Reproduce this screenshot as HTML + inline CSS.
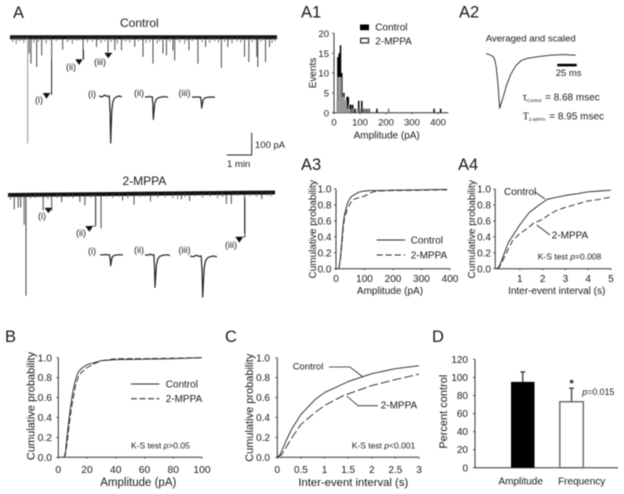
<!DOCTYPE html>
<html lang="en">
<head>
<meta charset="utf-8">
<title>Control vs 2-MPPA miniature currents</title>
<style>
html,body{margin:0;padding:0;background:#fff;}
#figure{display:block;width:624px;height:494px;filter:blur(0.4px);}
text{font-family:"Liberation Sans",Arial,sans-serif;fill:#1a1a1a;}
.pl{font-size:16.5px;}
.t10{font-size:10px;}
.t11{font-size:11px;}
.ks{font-size:8.5px;}
.mk{font-size:9px;}
</style>
</head>
<body>
<svg id="figure" xmlns="http://www.w3.org/2000/svg" width="624" height="494" viewBox="0 0 624 494">
<rect x="0" y="0" width="624" height="494" fill="#fff"/>
<g id="marks"></g>

<text class="pl" x="13" y="18">A</text>
<text class="pl" x="301" y="17.5">A1</text>
<text class="pl" x="459" y="17.5">A2</text>
<text class="pl" x="301" y="170">A3</text>
<text class="pl" x="458" y="170">A4</text>
<text class="pl" x="5" y="342">B</text>
<text class="pl" x="225" y="342">C</text>
<text class="pl" x="432" y="342">D</text>

<text x="120" y="27" font-size="12">Control</text>
<text x="122.5" y="185" font-size="12">2-MPPA</text>

<path d="M251.7 132.7V155H226.7" fill="none" stroke="#222" stroke-width="1"/>
<text x="255" y="148" font-size="9.5">100 pA</text>
<text x="227" y="167" font-size="9.5">1 min</text>

<g>
<path d="M42.7 93H50.3L46.5 98.7Z" fill="#111"/>
<path d="M75.3 59.3H82.7L79 65Z" fill="#111"/>
<path d="M104.3 52.7H112.3L108.3 58.3Z" fill="#111"/>
<path d="M83 59.3H83.6V50" stroke="#222" stroke-width="0.8" fill="none"/>
<path d="M50.3 93H51.6V60" stroke="#222" stroke-width="0.8" fill="none"/>
<text class="mk" x="35" y="103">(i)</text>
<text class="mk" x="66" y="70">(ii)</text>
<text class="mk" x="94" y="65">(iii)</text>
<text class="mk" x="88" y="97">(i)</text>
<text class="mk" x="134" y="96">(ii)</text>
<text class="mk" x="178.5" y="96">(iii)</text>
</g>

<g>
<path d="M44.5 207.7H52.3L48.4 213.3Z" fill="#111"/>
<path d="M85.3 226H93.3L89.3 231.7Z" fill="#111"/>
<path d="M235.3 236.7H243.3L239.3 242.7Z" fill="#111"/>
<path d="M93.3 226H95.7V198" stroke="#222" stroke-width="0.8" fill="none"/>
<path d="M243.3 236.7H245V198" stroke="#222" stroke-width="0.8" fill="none"/>
<text class="mk" x="38" y="219">(i)</text>
<text class="mk" x="76" y="236">(ii)</text>
<text class="mk" x="225" y="248">(iii)</text>
<text class="mk" x="88" y="254">(i)</text>
<text class="mk" x="134" y="253">(ii)</text>
<text class="mk" x="178.5" y="253">(iii)</text>
</g>

<!-- A1 static -->
<text class="t10" transform="translate(316,73) rotate(-90)" text-anchor="middle">Events</text>
<text class="t10" x="386.7" y="138.5" text-anchor="middle">Amplitude (pA)</text>
<rect x="360" y="24.5" width="9" height="5.7" fill="#000"/>
<rect x="360.7" y="38.3" width="7.8" height="4.6" fill="#fff" stroke="#333" stroke-width="1.3"/>
<text class="t10" x="375.3" y="30.5">Control</text>
<text class="t10" x="375.3" y="44.5">2-MPPA</text>

<!-- A2 static -->
<text x="485.7" y="41.7" font-size="9.6">Averaged and scaled</text>
<rect x="557.3" y="63.8" width="19.4" height="2.6" fill="#000"/>
<text x="555.7" y="76" font-size="9.5">25 ms</text>
<text x="522.7" y="100.7" font-size="10">τ<tspan font-size="4.6" dy="1.5">Control</tspan><tspan x="545" dy="-1.5">= 8.68 msec</tspan></text>
<text x="522.7" y="119.3" font-size="10"><tspan style="font-family:'Liberation Serif',serif">T</tspan><tspan font-size="4.6" dy="1.5">2-MPPA</tspan><tspan x="549.3" dy="-1.5">= 8.95 msec</tspan></text>

<!-- A3 static -->
<text class="t10" transform="translate(316,229.3) rotate(-90)" text-anchor="middle">Cumulative probability</text>
<text class="t10" x="390" y="294" text-anchor="middle">Amplitude (pA)</text>
<line x1="376.7" y1="240" x2="405" y2="240" stroke="#222" stroke-width="1"/>
<line x1="376.7" y1="255" x2="405" y2="255" stroke="#222" stroke-width="1" stroke-dasharray="6 3"/>
<text class="t10" x="410.7" y="243.5">Control</text>
<text class="t10" x="410.7" y="258.5">2-MPPA</text>

<!-- A4 static -->
<text class="t10" transform="translate(475,229.3) rotate(-90)" text-anchor="middle">Cumulative probability</text>
<text class="t10" x="556.7" y="294" text-anchor="middle">Inter-event interval (s)</text>
<text class="t10" x="504" y="195">Control</text>
<text class="t10" x="551.7" y="238.5">2-MPPA</text>
<line x1="535" y1="192" x2="545" y2="199" stroke="#222" stroke-width="0.8"/>
<line x1="536.7" y1="225" x2="550" y2="235" stroke="#222" stroke-width="0.8"/>
<text class="ks" x="537.7" y="259.3">K-S test <tspan font-style="italic">p</tspan>=0.008</text>

<!-- B static -->
<text class="t11" transform="translate(34.5,406) rotate(-90)" text-anchor="middle">Cumulative probability</text>
<text x="138.3" y="486" font-size="11.5" text-anchor="middle">Amplitude (pA)</text>
<line x1="131" y1="384" x2="159.3" y2="384" stroke="#222" stroke-width="1"/>
<line x1="131" y1="398.7" x2="159.3" y2="398.7" stroke="#333" stroke-width="1.1" stroke-dasharray="6 2.5"/>
<text class="t10" x="165.7" y="387.5">Control</text>
<text class="t10" x="165.7" y="402">2-MPPA</text>
<text class="ks" x="131" y="448.3">K-S test <tspan font-style="italic">p</tspan>&gt;0.05</text>

<!-- C static -->
<text class="t11" transform="translate(253,407.7) rotate(-90)" text-anchor="middle">Cumulative probability</text>
<text x="353.3" y="486" font-size="11.3" text-anchor="middle">Inter-event interval (s)</text>
<text font-size="9.5" x="292.7" y="369.5">Control</text>
<text class="t10" x="380.7" y="408.5">2-MPPA</text>
<path d="M329 367H350L363 377" fill="none" stroke="#222" stroke-width="0.8"/>
<path d="M378 405.7H358L346.7 396" fill="none" stroke="#222" stroke-width="0.8"/>
<text class="ks" x="351.7" y="448.3">K-S test <tspan font-style="italic">p</tspan>&lt;0.001</text>

<!-- D static -->
<text class="t11" transform="translate(447,411.7) rotate(-90)" text-anchor="middle">Percent control</text>
<text class="t10" x="520.7" y="484.7" text-anchor="middle">Amplitude</text>
<text class="t10" x="581.7" y="484.7" text-anchor="middle">Frequency</text>
<text x="571.7" y="387" font-size="11" font-weight="bold" text-anchor="middle">*</text>
<text x="582.3" y="395" font-size="8.8"><tspan font-style="italic">p</tspan>=0.015</text>
</svg>

<script>
// A: spontaneous event traces (time in min, amplitude in pA)
const controlEventTimes = [0.71,0.77,0.84,1.07,1.27,1.67,2.11,2.93,3.47,3.93,4.2,4.47,5.0,5.33,5.73,6.13,6.27,6.53,6.6,7.17,7.53,7.84,8.47,8.73,9.4,9.57,9.89,9.93,10.24,10.4];
const controlEventAmps = [483,74,120,135,82,262,56,97,44,67,59,59,44,89,120,74,82,59,105,59,120,44,139,44,89,112,89,135,112,44];
const controlSmallTimes = [0.1,0.18,0.25,0.33,0.4,0.47,0.55,0.63,0.95,1.15,1.35,1.45,1.58,1.85,1.98,2.3,2.4,2.5,2.6,2.7,2.82,3.1,3.2,3.3,3.55,3.65,3.8,4.05,4.15,4.3,4.55,4.65,4.8,4.9,5.15,5.25,5.45,5.6,5.9,6.0,6.4,6.7,6.8,7.0,7.1,7.3,7.4,7.7,8.0,8.1,8.2,8.35,8.6,8.8,8.9,9.1,9.25,9.5,9.7,9.8,10.05,10.15,10.5,10.62];
const controlSmallAmps = [22,12,30,14,18,12,26,13,24,20,12,28,14,18,12,22,14,30,12,16,13,24,12,20,14,26,18,22,12,30,14,20,24,12,18,13,26,22,28,18,20,13,24,30,14,18,12,22,26,13,18,24,20,12,28,18,24,12,22,14,20,13,26,18];
const mppaEventTimes = [0.25,0.41,0.51,0.65,0.72,1.41,1.75,2.15,2.88,3.08,3.51,3.73,4.59,5.05,5.71,6.95,7.28,8.75,8.95,9.48,10.17];
const mppaEventAmps = [65,58,58,136,459,73,73,35,35,50,141,156,30,50,35,27,35,50,50,186,30];
const mppaSmallTimes = [0.1,0.9,1.1,1.25,1.6,1.95,2.05,2.4,2.6,3.3,3.45,3.95,4.2,4.45,4.8,5.3,5.5,5.85,6.0,6.3,6.6,6.8,7.1,7.5,7.8,8.1,8.4,8.6,9.2,9.7,9.95,10.4,10.55];
const mppaSmallAmps = [22,18,16,12,20,15,12,14,18,16,12,14,18,13,20,16,14,12,18,16,22,26,18,14,20,16,24,18,14,16,18,14,16];

// Averaged event template: position relative to peak, normalised current
const shapeT = [-1,-0.75,-0.5,-0.3,-0.12,-0.05,0,0.04,0.1,0.2,0.32,0.5,0.75,1];
const shapeI = [0,0.02,-0.02,0.01,0,0.35,1,0.7,0.3,0.12,0.05,0.02,0,0.02];

// A1 histogram
const histControlAmps = [15,20,25,30,38,45,50,55,60,65,72,80,95,107,115,125,135,165,210,385,410];
const histControlCounts = [14,15,17,10,5,3,4,4,2,2,2,1,3,3,1,1,1,1,1,1,1];
const histMppaAmps = [12,17,22,27,32,37,42,47,52,57,62,70,88,92,102,112,122,132,210];
const histMppaCounts = [3,9,9,9,4,4,3,3,1,2,1,1,1,1,1,1,1,1,1];
const a1XTicks = [0,100,200,300,400];
const a1YTicks = [0,5,10,15,20];

// A2 averaged trace (ms from start, normalised current)
const a2Times = [0,4,8,10,12,14,16,18,20,24,29,35,41,48,60,75,90,105];
const a2Current = [0,0.02,0.05,0.1,0.25,0.55,1,0.9,0.8,0.58,0.38,0.22,0.13,0.09,0.06,0.03,0.02,0.03];

// Cumulative probability panels
const probTicks = [0,0.2,0.4,0.6,0.8,1];
const a3XTicks = [0,100,200,300,400];
const a3ControlX = [10,15,20,25,30,40,50,60,80,100,120,150,200,300,390];
const a3ControlY = [0,0.12,0.33,0.55,0.68,0.82,0.89,0.92,0.96,0.975,0.98,0.98,0.985,0.99,0.995];
const a3MppaX = [10,15,20,25,30,40,50,60,80,100,110,130,150,200,300,390];
const a3MppaY = [0,0.1,0.28,0.5,0.64,0.75,0.82,0.87,0.89,0.91,0.93,0.965,0.975,0.98,0.985,0.99];

const a4XTicks = [1,2,3,4,5];
const a4ControlX = [0,0.1,0.25,0.5,0.75,1,1.4,1.8,2.2,2.5,3,3.5,4,4.5,5];
const a4ControlY = [0,0.03,0.14,0.33,0.44,0.55,0.7,0.79,0.87,0.89,0.92,0.94,0.965,0.975,0.985];
const a4MppaX = [0,0.1,0.25,0.5,0.7,1,1.3,1.6,2,2.3,2.6,3,3.5,4,4.5,5];
const a4MppaY = [0,0.02,0.1,0.25,0.36,0.44,0.5,0.57,0.62,0.68,0.73,0.77,0.81,0.85,0.87,0.9];

const bXTicks = [0,20,40,60,80,100];
const bControlX = [4,5,6,8,10,12,14,16,20,25,30,40,60,80,100];
const bControlY = [0,0.05,0.2,0.45,0.65,0.78,0.86,0.89,0.93,0.95,0.97,0.98,0.985,0.99,1];
const bMppaX = [4,5,6,8,10,12,14,16,20,25,30,40,60,80,100];
const bMppaY = [0,0.03,0.13,0.38,0.57,0.72,0.81,0.85,0.9,0.94,0.97,0.99,0.99,0.995,1];

const cXTicks = [0,0.5,1,1.5,2,2.5,3];
const cControlX = [0,0.05,0.1,0.2,0.3,0.5,0.8,1,1.5,2,2.5,3];
const cControlY = [0,0.02,0.07,0.18,0.28,0.43,0.58,0.65,0.76,0.84,0.89,0.92];
const cMppaX = [0,0.1,0.2,0.3,0.5,0.8,1,1.4,2,2.5,3];
const cMppaY = [0,0.03,0.11,0.19,0.33,0.45,0.52,0.62,0.72,0.78,0.835];

// D bars
const dValues = [95,73];
const dErrors = [11,15];
const dYTicks = [0,20,40,60,80,100,120];

const NS = 'http://www.w3.org/2000/svg';
const marks = document.getElementById('marks');
function mk(tag, attrs) {
  const el = document.createElementNS(NS, tag);
  for (const k in attrs) el.setAttribute(k, attrs[k]);
  marks.appendChild(el);
  return el;
}
function linear(d0, d1, r0, r1) {
  return function (v) { return r0 + (v - d0) * (r1 - r0) / (d1 - d0); };
}
function fmt(v, digits) { return digits ? v.toFixed(digits) : String(v); }

function drawAxes(prefix, xs, ys, xTicks, yTicks, o) {
  const xLine = mk('line', {x1: xs(o.xMin), x2: xs(o.xMax), y1: ys(o.yMin), y2: ys(o.yMin), stroke: '#333', 'stroke-width': 1});
  
  
  const yLine = mk('line', {x1: xs(o.xMin), x2: xs(o.xMin), y1: ys(o.yMin), y2: ys(o.yMax), stroke: '#333', 'stroke-width': 1});
  
  
  xTicks.forEach(function (t) {
    const tick = mk('line', {x1: xs(t), x2: xs(t), y1: ys(o.yMin), y2: ys(o.yMin) + 1.5, stroke: '#333', 'stroke-width': 0.8});
    
    
    const label = mk('text', {x: xs(t), y: o.xLabelY, 'text-anchor': 'middle', 'font-size': o.tickSize});
    
    
    label.textContent = fmt(t, 0);
  });
  yTicks.forEach(function (t) {
    const tick = mk('line', {x1: xs(o.xMin) - 2, x2: xs(o.xMin), y1: ys(t), y2: ys(t), stroke: '#333', 'stroke-width': 0.8});
    
    
    const label = mk('text', {x: o.yLabelX, y: ys(t) + 3.6, 'text-anchor': 'end', 'font-size': o.tickSize});
    
    
    label.textContent = fmt(t, o.yDigits || 0);
  });
}
function drawCurve(name, xVals, yVals, xs, ys, dash) {
  const pts = xVals.map(function (v, i) { return xs(v).toFixed(2) + ',' + ys(yVals[i]).toFixed(2); }).join(' ');
  const p = mk('polyline', {points: pts, fill: 'none', stroke: '#222', 'stroke-width': 0.9, 'stroke-dasharray': dash || 'none', 'stroke-linejoin': 'round'});
  
  
}

// Panel A traces
function drawTrace(prefix, t0, y0, y1, len, times, amps, smallTimes, smallAmps) {
  const xs = linear(0, 10.7, t0, t0 + 267);
  const base = linear(0, 10.7, y0, y1);
  const ampScale = 0.22;
  const bl = mk('line', {x1: xs(0), x2: xs(10.7), y1: y0, y2: y1, stroke: '#111', 'stroke-width': 4});
  
  
  smallTimes.forEach(function (t, i) {
    const s = mk('line', {x1: xs(t), x2: xs(t), y1: base(t), y2: base(t) + smallAmps[i] * ampScale, stroke: '#555', 'stroke-width': 0.8});
    
    
  });
  times.forEach(function (t, i) {
    const s = mk('line', {x1: xs(t), x2: xs(t), y1: base(t), y2: base(t) + amps[i] * ampScale, stroke: amps[i] > 400 && prefix === 'control-trace' ? '#888' : '#333', 'stroke-width': 0.9});
    
    
  });
}
drawTrace('control-trace', 10, 37.3, 37.3, 267, controlEventTimes, controlEventAmps, controlSmallTimes, controlSmallAmps);
drawTrace('mppa-trace', 8, 195, 192.5, 267, mppaEventTimes, mppaEventAmps, mppaSmallTimes, mppaSmallAmps);

// Inset averaged events: [start x, peak x, end x, baseline y, depth]
function drawInset(name, x0, xp, x1, yb, depth) {
  const pts = shapeT.map(function (t, i) {
    const x = t < 0 ? xp + t * (xp - x0) : xp + t * (x1 - xp);
    return x.toFixed(2) + ',' + (yb + shapeI[i] * depth).toFixed(2);
  }).join(' ');
  const p = mk('polyline', {points: pts, fill: 'none', stroke: '#222', 'stroke-width': 1.2, 'stroke-linejoin': 'round'});
  
  
}
drawInset('control-inset-i', 99, 110.7, 122, 96, 47);
drawInset('control-inset-ii', 145, 153.3, 168, 96.7, 22.7);
drawInset('control-inset-iii', 192, 201.7, 215, 97, 11);
drawInset('mppa-inset-i', 100, 110.7, 123, 254.7, 11);
drawInset('mppa-inset-ii', 145, 155, 170, 254.7, 32.7);
drawInset('mppa-inset-iii', 190, 202.7, 217, 256, 41);

// A1 histogram
const a1x = linear(0, 400, 334, 438);
const a1y = linear(0, 20, 112.7, 33.3);
drawAxes('a1', a1x, a1y, a1XTicks, a1YTicks, {xMin: 0, xMax: 440, yMin: 0, yMax: 20, xLabelY: 125.5, yLabelX: 329, tickSize: 9.5});
histControlAmps.forEach(function (a, i) {
  const bar = mk('rect', {x: a1x(a) - 0.75, y: a1y(histControlCounts[i]), width: 1.5, height: a1y(0) - a1y(histControlCounts[i]), fill: '#000'});
  
  
});
histMppaAmps.forEach(function (a, i) {
  const bar = mk('rect', {x: a1x(a) - 0.75, y: a1y(histMppaCounts[i]), width: 1.5, height: a1y(0) - a1y(histMppaCounts[i]), fill: '#999'});
  
  
});

// A2 averaged trace
const a2x = linear(0, 105, 486, 575.7);
const a2y = linear(0, 1, 53.5, 108.3);
drawCurve('a2-averaged-trace', a2Times, a2Current, a2x, a2y);

// A3
const a3x = linear(0, 400, 336, 450);
const a3y = linear(0, 1, 268.7, 189);
drawAxes('a3', a3x, a3y, a3XTicks, probTicks, {xMin: 0, xMax: 400, yMin: 0, yMax: 1, xLabelY: 282, yLabelX: 331.5, tickSize: 10, yDigits: 1});
drawCurve('a3-curve-control', a3ControlX, a3ControlY, a3x, a3y);
drawCurve('a3-curve-mppa', a3MppaX, a3MppaY, a3x, a3y, '6 3');

// A4
const a4x = linear(0, 5, 497, 611);
const a4y = linear(0, 1, 268.7, 189);
drawAxes('a4', a4x, a4y, a4XTicks, probTicks, {xMin: -0.08, xMax: 5, yMin: 0, yMax: 1, xLabelY: 282, yLabelX: 491, tickSize: 10, yDigits: 1});
drawCurve('a4-curve-control', a4ControlX, a4ControlY, a4x, a4y);
drawCurve('a4-curve-mppa', a4MppaX, a4MppaY, a4x, a4y, '6 3');

// B
const bx = linear(0, 100, 58.3, 202);
const by = linear(0, 1, 457.3, 357.7);
drawAxes('b', bx, by, bXTicks, probTicks, {xMin: 0, xMax: 100, yMin: 0, yMax: 1, xLabelY: 473, yLabelX: 52, tickSize: 10.3, yDigits: 1});
drawCurve('b-curve-control', bControlX, bControlY, bx, by);
drawCurve('b-curve-mppa', bMppaX, bMppaY, bx, by, '6 2.5');

// C
const cx = linear(0, 3, 277.3, 419);
const cy = linear(0, 1, 457.3, 357.7);
drawAxes('c', cx, cy, cXTicks, probTicks, {xMin: 0, xMax: 3, yMin: 0, yMax: 1, xLabelY: 473, yLabelX: 270, tickSize: 10, yDigits: 1});
drawCurve('c-curve-control', cControlX, cControlY, cx, cy);
drawCurve('c-curve-mppa', cMppaX, cMppaY, cx, cy, '9 3');

// D
const dy = linear(0, 120, 467.7, 359.3);
const dBarX = [511, 559.8];
const dBarW = 23.5;
const dx = linear(0, 1, 475, 618);
drawAxes('d', dx, dy, [], dYTicks, {xMin: 0, xMax: 1, yMin: 0, yMax: 120, xLabelY: 480, yLabelX: 468, tickSize: 10});
dValues.forEach(function (v, i) {
  const c = dBarX[i] + dBarW / 2;
  const err = mk('path', {d: 'M' + c + ' ' + dy(v) + 'V' + dy(v + dErrors[i]) + 'm-2.5 0h5', fill: 'none', stroke: '#444', 'stroke-width': 1.4});
  
  
  const bar = mk('rect', {x: dBarX[i], y: dy(v), width: dBarW, height: dy(0) - dy(v), fill: i === 0 ? '#000' : '#fff', stroke: i === 0 ? '#000' : '#666', 'stroke-width': i === 0 ? 0 : 1.4});
  
  
});
</script>
</body>
</html>
